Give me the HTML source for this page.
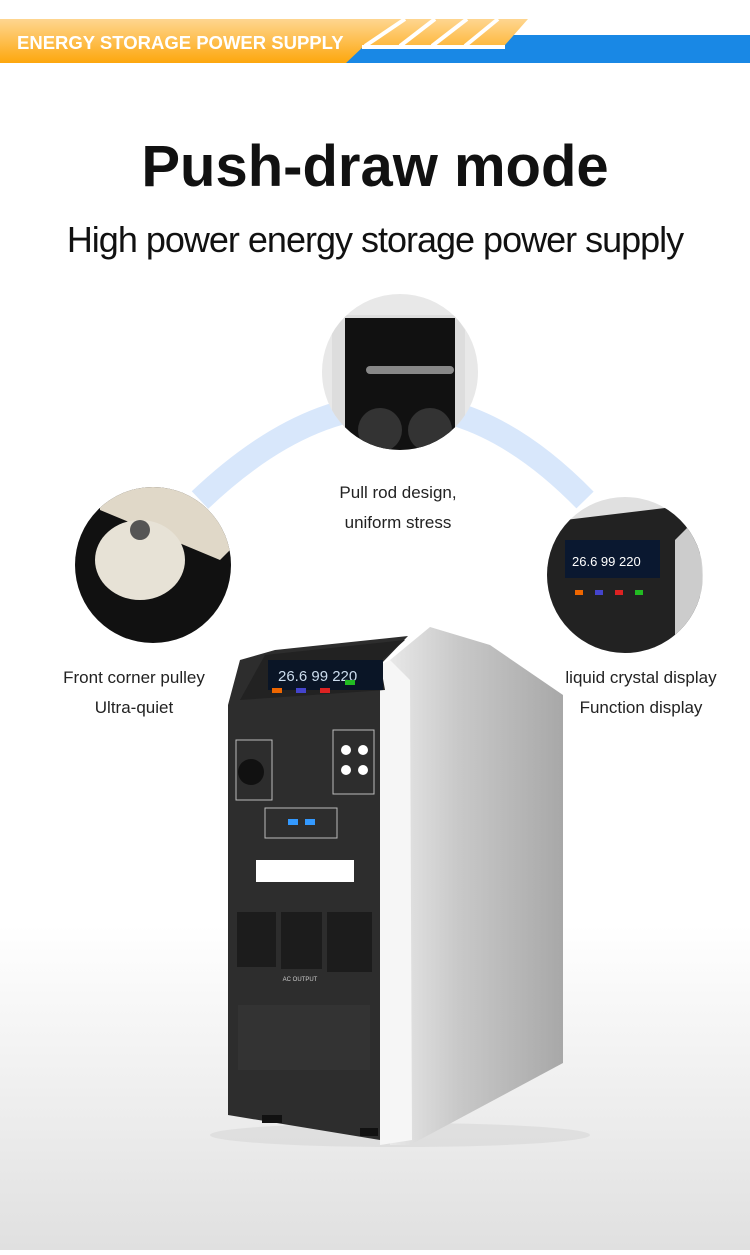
<!DOCTYPE html>
<html><head><style>
body{margin:0;width:750px;height:1250px;overflow:hidden;font-family:"Liberation Sans",sans-serif;}
</style></head><body>
<svg width="750" height="1250" viewBox="0 0 750 1250" xmlns="http://www.w3.org/2000/svg">
<defs>
<linearGradient id="bg" x1="0" y1="0" x2="0" y2="1">
<stop offset="0" stop-color="#fff"/><stop offset="0.74" stop-color="#fff"/><stop offset="1" stop-color="#e0e0e0"/></linearGradient>
<linearGradient id="or" x1="0" y1="0" x2="0" y2="1">
<stop offset="0" stop-color="#fed690"/><stop offset="1" stop-color="#fda70d"/></linearGradient>
<linearGradient id="side" x1="0" y1="0" x2="1" y2="0">
<stop offset="0" stop-color="#e8e8e8"/><stop offset="0.4" stop-color="#c8c8c8"/><stop offset="1" stop-color="#a8a8a8"/></linearGradient>
<clipPath id="c1"><circle cx="400" cy="372" r="78"/></clipPath>
<clipPath id="c2"><circle cx="153" cy="565" r="78"/></clipPath>
<clipPath id="c3"><circle cx="625" cy="575" r="78"/></clipPath>
</defs>
<rect width="750" height="1250" fill="url(#bg)"/>
<polygon points="345,63 750,63 750,35 360,35" fill="#1988e5"/>
<polygon points="0,19 528,19 505,45 365,45 346,63 0,63" fill="url(#or)"/>
<g stroke="#fff" stroke-width="4"><line x1="365" y1="46" x2="405" y2="19"/><line x1="400" y1="46" x2="435" y2="19"/><line x1="432" y1="46" x2="467" y2="19"/><line x1="465" y1="46" x2="498" y2="19"/><line x1="362" y1="47" x2="505" y2="47"/></g>
<text x="17" y="49" fill="#fff" font-weight="bold" font-size="18.5">ENERGY STORAGE POWER SUPPLY</text>
<text x="375" y="186" text-anchor="middle" font-weight="bold" font-size="58" fill="#111">Push-draw mode</text>
<text x="375" y="252" text-anchor="middle" font-size="36" fill="#111" letter-spacing="-1">High power energy storage power supply</text>
<path d="M200,500 Q400,310 585,500" fill="none" stroke="#d8e7fb" stroke-width="24"/>
<circle cx="400" cy="372" r="78" fill="#e8e8e8"/>
<g clip-path="url(#c1)"><polygon points="332,320 345,315 455,315 465,330 465,450 332,450" fill="#ddd"/><rect x="345" y="318" width="110" height="140" fill="#111"/><path d="M370,370 h80" stroke="#888" stroke-width="8" stroke-linecap="round"/><circle cx="380" cy="430" r="22" fill="#333"/><circle cx="430" cy="430" r="22" fill="#333"/></g>
<circle cx="153" cy="565" r="78" fill="#111"/>
<g clip-path="url(#c2)"><polygon points="100,487 240,487 240,540 220,560 100,510" fill="#e0d8c8"/><ellipse cx="140" cy="560" rx="45" ry="40" fill="#e7e2d6"/><circle cx="140" cy="530" r="10" fill="#555"/></g>
<circle cx="625" cy="575" r="78" fill="#e0e0e0"/>
<g clip-path="url(#c3)"><polygon points="545,560 565,520 690,505 700,520 700,660 545,660" fill="#222"/><rect x="565" y="540" width="95" height="38" fill="#0a1830"/><text x="572" y="566" font-size="13" fill="#fff">26.6 99 220</text><rect x="575" y="590" width="8" height="5" fill="#e60"/><rect x="595" y="590" width="8" height="5" fill="#44c"/><rect x="615" y="590" width="8" height="5" fill="#d22"/><rect x="635" y="590" width="8" height="5" fill="#2b2"/><polygon points="675,540 700,515 705,660 675,660" fill="#ccc"/></g>
<g font-size="17" fill="#222" text-anchor="middle">
<text x="398" y="498">Pull rod design,</text><text x="398" y="528">uniform stress</text>
<text x="134" y="683">Front corner pulley</text><text x="134" y="713">Ultra-quiet</text>
<text x="641" y="683">liquid crystal display</text><text x="641" y="713">Function display</text></g>
<ellipse cx="400" cy="1135" rx="190" ry="12" fill="#c8c8c8" opacity="0.35"/>
<polygon points="390,660 430,627 490,645 563,695 563,1063 410,1145 390,1145" fill="url(#side)"/>
<polygon points="380,665 390,660 410,680 412,1140 380,1145" fill="#f6f6f6"/>
<polygon points="228,705 240,660 275,650 408,636 380,665 380,1140 228,1115" fill="#2d2d2d"/>
<polygon points="240,700 265,655 405,640 380,662 385,690" fill="#222"/>
<rect x="268" y="660" width="115" height="30" fill="#0a1526"/>
<text x="278" y="681" font-size="15" fill="#cde">26.6  99  220</text>
<rect x="272" y="688" width="10" height="5" fill="#e60"/><rect x="296" y="688" width="10" height="5" fill="#44c"/><rect x="320" y="688" width="10" height="5" fill="#d22"/><rect x="345" y="680" width="10" height="5" fill="#2b2"/>
<g fill="none" stroke="#bbb" stroke-width="1"><rect x="236" y="740" width="36" height="60"/><rect x="333" y="730" width="41" height="64"/><rect x="265" y="808" width="72" height="30"/></g>
<circle cx="251" cy="772" r="13" fill="#111"/>
<g fill="#fff"><circle cx="346" cy="750" r="5"/><circle cx="363" cy="750" r="5"/><circle cx="346" cy="770" r="5"/><circle cx="363" cy="770" r="5"/></g>
<rect x="288" y="819" width="10" height="6" fill="#39f"/><rect x="305" y="819" width="10" height="6" fill="#39f"/>
<rect x="256" y="860" width="98" height="22" fill="#fff"/>
<g fill="#1c1c1c"><rect x="237" y="912" width="39" height="55"/><rect x="281" y="912" width="41" height="57"/><rect x="327" y="912" width="45" height="60"/></g>
<text x="300" y="981" font-size="6" fill="#ccc" text-anchor="middle">AC OUTPUT</text>
<rect x="238" y="1005" width="132" height="65" fill="#333"/>
<rect x="262" y="1115" width="20" height="8" fill="#111"/><rect x="360" y="1128" width="18" height="8" fill="#111"/>
</svg>
</body></html>
